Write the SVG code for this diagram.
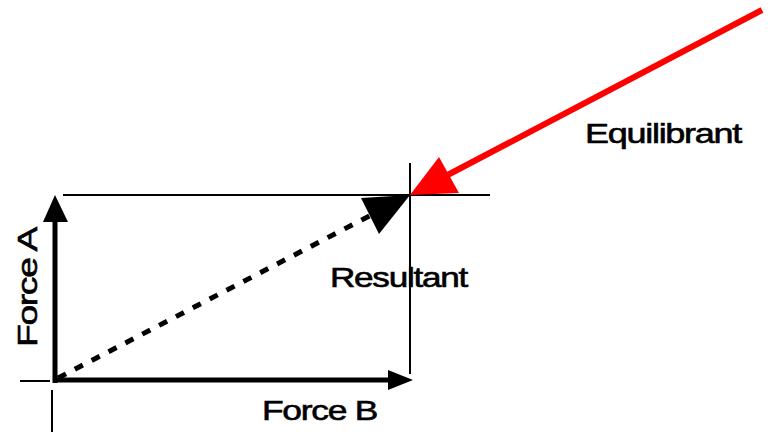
<svg xmlns="http://www.w3.org/2000/svg" width="776" height="433" viewBox="0 0 776 433">
<style>
.thin{stroke:#000;stroke-width:2;fill:none}
.vec{stroke:#000;stroke-width:5;fill:none}
.lbl{font-family:"Liberation Sans",Arial,sans-serif;font-size:28px;fill:#000;stroke:#000;stroke-width:0.6;letter-spacing:-1px}
</style>
<rect width="776" height="433" fill="#fff"/>
<g id="frame">
<line class="thin" x1="63" y1="195" x2="490" y2="195"/>
<line class="thin" x1="410" y1="163" x2="410" y2="374"/>
<line class="thin" x1="20" y1="381" x2="50" y2="381"/>
<line class="thin" x1="52" y1="390" x2="52" y2="432"/>
</g>
<g id="connectors">
<g id="forceA-arrow">
<line class="vec" x1="55" y1="383" x2="55" y2="215"/>
<polygon points="55,195 43,222 68,222" fill="#000"/>
</g>
<g id="forceB-arrow">
<line class="vec" x1="53" y1="380" x2="395" y2="380"/>
<polygon points="413,380 388,370 388,390" fill="#000"/>
</g>
<g id="resultant-arrow">
<line x1="58" y1="378" x2="375" y2="213" stroke="#000" stroke-width="5" stroke-dasharray="9,10"/>
<polygon points="410,195 379,234 361,198" fill="#000"/>
</g>
<g id="equilibrant-arrow">
<line x1="762" y1="10" x2="440" y2="179" stroke="#f00" stroke-width="6"/>
<polygon points="410,195 459,193 439,157" fill="#f00"/>
</g>
</g>
<g id="label-equilibrant"><text class="lbl" x="585" y="143" textLength="156" lengthAdjust="spacingAndGlyphs">Equilibrant</text></g>
<g id="label-resultant"><text class="lbl" x="330" y="287" textLength="137" lengthAdjust="spacingAndGlyphs">Resultant</text></g>
<g id="label-forceB"><text class="lbl" x="262" y="420" textLength="115" lengthAdjust="spacingAndGlyphs">Force B</text></g>
<g id="label-forceA"><text class="lbl" transform="translate(37,347) rotate(-90)" x="0" y="0" textLength="119" lengthAdjust="spacingAndGlyphs">Force A</text></g>
</svg>
